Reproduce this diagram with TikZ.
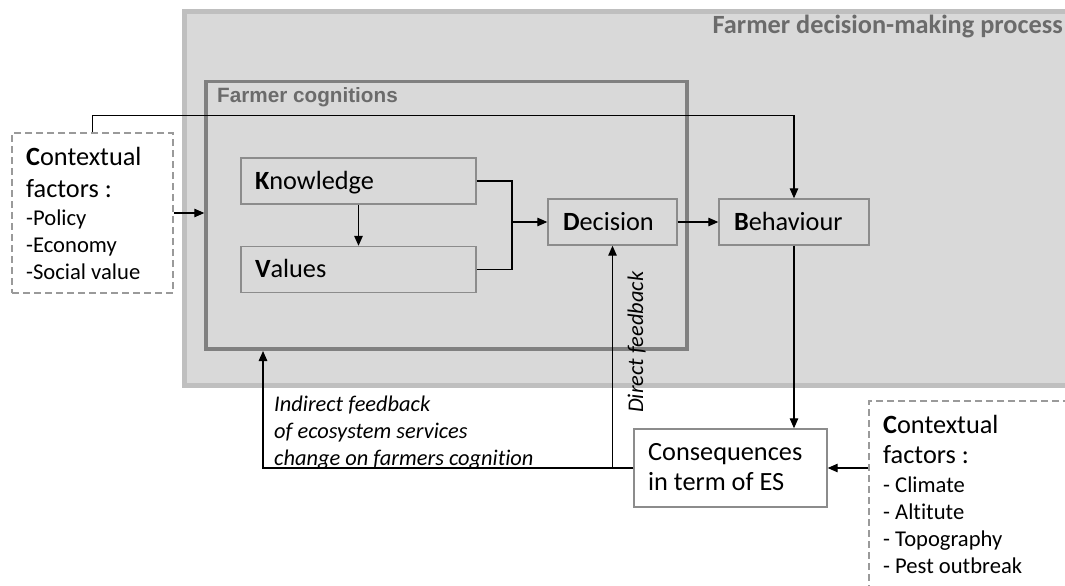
\documentclass[tikz,border=0pt]{standalone}
\usepackage{fontspec}
\setmainfont[Ligatures=NoCommon]{Carlito}
\newfontfamily\arialfont{Liberation Sans}
\usetikzlibrary{arrows.meta}
\definecolor{bgfill}{HTML}{D9D9D9}
\definecolor{outerline}{HTML}{BFBFBF}
\definecolor{cogline}{HTML}{808080}
\definecolor{boxline}{HTML}{8C8C8C}
\definecolor{titlegray}{HTML}{6B6B6B}
\definecolor{dashgray}{HTML}{9A9A9A}
\newcommand\fsz[1]{\fontsize{#1}{#1}\selectfont}
\newcommand\oneline[1]{\hbox{\smash{#1}}}
\newcommand\bigsz{\fsz{26.3}}
\newcommand\listsz{\fsz{22.6}}
\newcommand\itsz{\fsz{22.4}\itshape}
\begin{document}
\begin{tikzpicture}[x=1pt,y=-1pt,
  arr/.style={line width=1.3pt,-{Triangle[length=10pt,width=8.5pt]}},
  conn/.style={line width=1.3pt},
  fbox/.style={draw=boxline,line width=1.4pt,fill=bgfill,rectangle,inner ysep=0pt,
    align=left,text height=16pt,text depth=0pt,font=\bigsz,minimum height=46pt},
  wbox/.style={draw=boxline,line width=1.4pt,fill=white,rectangle,inner sep=0pt},
  dbox/.style={draw=dashgray,line width=1.2pt,dash pattern=on 7pt off 4pt,fill=white,rectangle,inner sep=0pt},
  txt/.style={anchor=base west,inner sep=0pt}
]
\useasboundingbox (0,0) rectangle (1065,586);
\begin{scope}
\clip (0,0) rectangle (1065,586);
% outer process frame
\draw[outerline,line width=5pt,fill=bgfill] (184.5,11.5) rectangle (1100,385.5);
\node[anchor=base east,inner sep=0pt,font=\bigsz\bfseries,text=titlegray] (proctitle) at (1063,34) {Farmer decision-making process};
% cognitions box
\node[draw=cogline,line width=3.5pt,rectangle,minimum width=481pt,minimum height=267.5pt,inner sep=0pt] (cog) at (446.5,215.25) {};
\node[txt,font=\arialfont\bfseries\fsz{20.7},text=titlegray] (cogtitle) at (217,102) {Farmer cognitions};
% inner boxes
\node[fbox,inner xsep=14pt,text width=207pt] (know) at (358.5,181) {\textbf{K}nowledge};
\node[fbox,inner xsep=14pt,text width=207pt] (val) at (358.5,269.5) {\textbf{V}alues};
\node[fbox,inner xsep=15pt,text width=99pt] (dec) at (612.5,222) {\textbf{D}ecision};
\node[fbox,inner xsep=15pt,text width=120pt] (beh) at (794,222) {\textbf{B}ehaviour};
\node[wbox,minimum width=193pt,minimum height=78pt] (cons) at (730.5,468) {};
\node[txt] (constext) at (648,460) {\vtop{\offinterlineskip
  \oneline{\bigsz Consequences}\vskip30pt
  \oneline{\bigsz in term of ES}}};
% contextual factors boxes
\node[dbox,minimum width=161pt,minimum height=160pt] (ctxL) at (92.5,213) {};
\node[txt] (ctxLtext) at (26,165) {\vtop{\offinterlineskip
  \oneline{\bigsz\textbf{C}ontextual}\vskip32pt
  \oneline{\bigsz factors :}\vskip28pt
  \oneline{\listsz -Policy}\vskip27pt
  \oneline{\listsz -Economy}\vskip27pt
  \oneline{\listsz -Social value}}};
\node[dbox,minimum width=260pt,minimum height=220pt] (ctxR) at (999,511) {};
\node[txt] (ctxRtext) at (883,433) {\vtop{\offinterlineskip
  \oneline{\bigsz\textbf{C}ontextual}\vskip30pt
  \oneline{\bigsz factors :}\vskip29pt
  \oneline{\listsz - Climate}\vskip27pt
  \oneline{\listsz - Altitute}\vskip27pt
  \oneline{\listsz - Topography}\vskip27pt
  \oneline{\listsz - Pest outbreak}}};
% connectors
\coordinate (j) at (512,222);
\coordinate (indtip) at (263,351);
\draw[arr] (ctxL.east) -- (ctxL.east -| cog.west);
\draw[arr] (ctxL.north) -- ++(0,-17) -| (beh.north);
\draw[arr] (know.south) -- (val.north);
\draw[conn] (know.east) -| (j);
\draw[conn] (val.east) -| (j);
\draw[arr] (j) -- (dec.west);
\draw[arr] (dec.east) -- (beh.west);
\draw[arr] (beh.south) -- (beh.south |- cons.north);
\draw[arr] (ctxR.west |- cons.east) -- (cons.east);
\draw[arr] (cons.west) -| (dec.south);
\draw[arr] (cons.west) -| (indtip);
% feedback labels
\node[rotate=90,anchor=base west,inner sep=0pt,font=\itsz] (dfb) at (643,413) {Direct feedback};
\node[txt] (ifb) at (274,411) {\vtop{\offinterlineskip
  \oneline{\itsz Indirect feedback}\vskip27pt
  \oneline{\itsz of ecosystem services}\vskip27pt
  \oneline{\itsz change on farmers cognition}}};
\end{scope}
\end{tikzpicture}
\end{document}
